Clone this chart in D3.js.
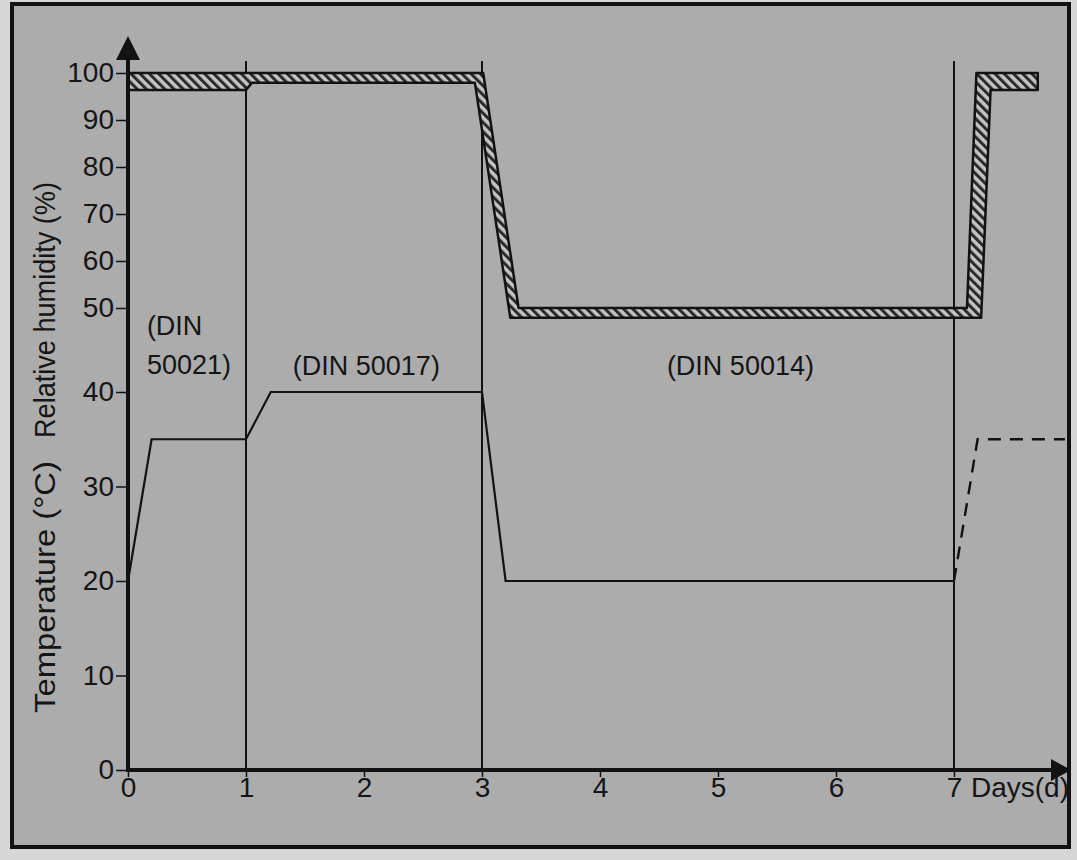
<!DOCTYPE html>
<html>
<head>
<meta charset="utf-8">
<script src="https://cdn.jsdelivr.net/npm/d3@7"></script>
<style>
  html, body { margin: 0; padding: 0; background: #d6d6d6; }
  svg { display: block; }
  text { font-family: "Liberation Sans", Arial, sans-serif; fill: #151515; }
</style>
</head>
<body>
<svg id="chart" width="1077" height="860"></svg>
<script>
// ---- data ----
const dayTicks = [0, 1, 2, 3, 4, 5, 6, 7];
const tempTicks = [0, 10, 20, 30, 40];
const rhTicks = [50, 60, 70, 80, 90, 100];
const phaseDays = [1, 3, 7];

// relative humidity band (hatched): upper and lower edges
const rhUpperDays = [0, 3.01, 3.31, 7.11, 7.19, 7.71];
const rhUpper     = [100, 100, 50, 50, 100, 100];
const rhLowerDays = [0, 1, 1.05, 2.94, 3.24, 7.23, 7.31, 7.71];
const rhLower     = [96.4, 96.4, 97.9, 97.9, 47.9, 47.9, 96.4, 96.4];

// temperature (solid) and continuation (dashed)
const tempDays = [0, 0.2, 1, 1.21, 3, 3.2, 7];
const temp     = [20, 35, 35, 40, 40, 20, 20];
const tempDashDays = [7, 7.2, 7.94];
const tempDash     = [20, 35, 35];

const phaseLabels = [
  { lines: ["(DIN", "50021)"], day: 0.16, anchor: "start" },
  { lines: ["(DIN 50017)"], day: 2.02, anchor: "middle" },
  { lines: ["(DIN 50014)"], day: 5.19, anchor: "middle" }
];

// ---- scales ----
const x = d3.scaleLinear().domain([0, 7]).range([128, 954]);
const yT = d3.scaleLinear().domain([0, 40]).range([770, 392]);
const yH = d3.scaleLinear().domain([50, 100]).range([308, 73]);

const svg = d3.select("#chart");
const ink = "#121212";

// frame
svg.append("rect").attr("x", 12).attr("y", 4).attr("width", 1057).attr("height", 843)
  .attr("fill", "#acacac").attr("stroke", ink).attr("stroke-width", 4);

// hatch pattern
const defs = svg.append("defs");
const pat = defs.append("pattern").attr("id", "hatch")
  .attr("patternUnits", "userSpaceOnUse").attr("width", 6.5).attr("height", 6.5)
  .attr("patternTransform", "rotate(-45)");
pat.append("rect").attr("width", 6.5).attr("height", 6.5).attr("fill", "#c4c4c4");
pat.append("rect").attr("x", 0).attr("y", 0).attr("width", 3).attr("height", 6.5).attr("fill", "#2a2a2a");

// phase lines
svg.append("g").selectAll("line").data(phaseDays).join("line")
  .attr("x1", d => x(d)).attr("x2", d => x(d))
  .attr("y1", 61).attr("y2", yT(0))
  .attr("stroke", ink).attr("stroke-width", 2);

// humidity band polygon
const upperPts = rhUpperDays.map((d, i) => [x(d), yH(rhUpper[i])]);
const lowerPts = rhLowerDays.map((d, i) => [x(d), yH(rhLower[i])]).reverse();
svg.append("path")
  .attr("d", d3.line().curve(d3.curveLinearClosed)(upperPts.concat(lowerPts)))
  .attr("fill", "url(#hatch)").attr("stroke", ink).attr("stroke-width", 2.5)
  .attr("stroke-linejoin", "round");

// temperature line
const tLine = d3.line().x(d => x(d[0])).y(d => yT(d[1]));
svg.append("path").attr("d", tLine(tempDays.map((d, i) => [d, temp[i]])))
  .attr("fill", "none").attr("stroke", ink).attr("stroke-width", 2.2);
svg.append("path").attr("d", tLine(tempDashDays.map((d, i) => [d, tempDash[i]])))
  .attr("fill", "none").attr("stroke", ink).attr("stroke-width", 2.4)
  .attr("stroke-dasharray", "13,9");

// y axes (ticks + labels)
function styleAxis(g) {
  g.select(".domain").remove();
  g.selectAll(".tick line").attr("stroke", ink).attr("stroke-width", 1.5);
  g.selectAll(".tick text").style("font-size", "28px").attr("fill", "#151515")
    .style("font-family", '"Liberation Sans", Arial, sans-serif');
}
svg.append("g").attr("transform", "translate(128,0)")
  .call(d3.axisLeft(yT).tickValues(tempTicks).tickSize(12).tickPadding(2).tickFormat(d3.format("d")))
  .call(styleAxis);
svg.append("g").attr("transform", "translate(128,0)")
  .call(d3.axisLeft(yH).tickValues(rhTicks).tickSize(12).tickPadding(2).tickFormat(d3.format("d")))
  .call(styleAxis);

// x axis
const xAx = svg.append("g").attr("transform", `translate(0,${yT(0)})`)
  .call(d3.axisBottom(x).tickValues(dayTicks).tickSize(7).tickPadding(0).tickFormat(d3.format("d")))
  .call(styleAxis);

// axis lines + arrows
svg.append("line").attr("x1", 128).attr("x2", 128).attr("y1", yT(0) + 2).attr("y2", 52)
  .attr("stroke", ink).attr("stroke-width", 4);
svg.append("line").attr("x1", 126).attr("x2", 1056).attr("y1", yT(0)).attr("y2", yT(0))
  .attr("stroke", ink).attr("stroke-width", 4);
svg.append("path").attr("d", "M128,36 L140,60 L116,60 Z").attr("fill", ink);
svg.append("path").attr("d", `M1071,${yT(0)} L1051,${yT(0) - 11} L1051,${yT(0) + 11} Z`).attr("fill", ink);

// axis titles
svg.append("text").attr("x", 1069).attr("y", 797).attr("text-anchor", "end")
  .style("font-size", "28px").text("Days(d)");
svg.append("text").attr("transform", "translate(55,587) rotate(-90)").attr("text-anchor", "middle")
  .attr("textLength", 252).attr("lengthAdjust", "spacingAndGlyphs")
  .style("font-size", "29px").text("Temperature (°C)");
svg.append("text").attr("transform", "translate(55,310) rotate(-90)").attr("text-anchor", "middle")
  .attr("textLength", 256).attr("lengthAdjust", "spacingAndGlyphs")
  .style("font-size", "29px").text("Relative humidity (%)");

// phase labels
phaseLabels.forEach(p => {
  const t = svg.append("text").attr("text-anchor", p.anchor).style("font-size", "27px");
  const y0 = p.lines.length > 1 ? 335 : 375;
  p.lines.forEach((ln, i) => {
    t.append("tspan").attr("x", x(p.day)).attr("y", y0 + i * 39).text(ln);
  });
});
</script>
</body>
</html>
